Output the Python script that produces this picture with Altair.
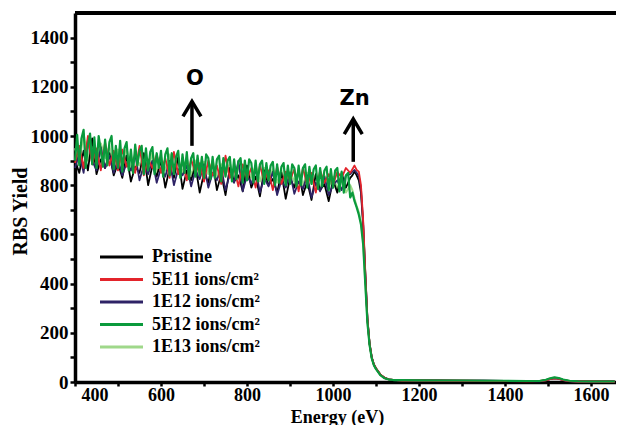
import altair as alt
import pandas as pd

# ---------------- data ----------------
SERIES = ["Pristine", "5E11 ions/cm²", "1E12 ions/cm²", "5E12 ions/cm²", "1E13 ions/cm²"]
COLORS = ["#000000", "#e3242b", "#2e2366", "#0a9a3c", "#9fd88a"]

E_STEP10 = list(range(400, 1041, 10))   # plateau sampling (65 pts)
E_STEP5 = list(range(400, 1041, 5))     # plateau sampling (129 pts)
E_EDGE = [1045, 1050, 1055, 1060, 1065, 1070, 1075, 1080, 1085, 1090, 1095, 1100, 1110, 1120, 1130, 1140]
E_TAIL = [1160, 1200, 1250, 1300, 1350, 1400, 1450, 1480, 1495, 1505, 1515, 1525, 1535, 1550, 1570, 1600, 1655]

pristine_plateau = [
    900, 850, 940, 860, 990, 845, 905, 870, 930, 840,
    890, 830, 920, 815, 875, 850, 930, 800, 880, 835,
    900, 790, 870, 830, 915, 785, 860, 820, 880, 770,
    850, 810, 895, 780, 845, 760, 870, 815, 840, 775,
    880, 790, 835, 755, 860, 800, 825, 770, 850, 745,
    830, 790, 860, 760, 815, 740, 845, 780, 805, 735,
    820, 770, 850, 790, 830]
pristine_edge = [840, 855, 840, 820, 770, 640, 440, 255, 155, 100, 70, 55, 30, 17, 11, 9]
pristine_tail = [7, 6, 6, 5, 5, 4, 4, 4, 8, 13, 16, 14, 9, 4, 2, 2, 2]

e11_plateau = [
    890, 960, 870, 1000, 885, 950, 860, 975, 880, 940,
    860, 945, 875, 920, 850, 960, 840, 905, 870, 925,
    850, 910, 830, 935, 845, 895, 820, 905, 850, 890,
    815, 900, 840, 880, 805, 920, 830, 870, 795, 885,
    825, 870, 790, 880, 815, 860, 780, 875, 805, 855,
    820, 865, 775, 870, 800, 850, 770, 860, 810, 845,
    800, 855, 830, 870, 850]
e11_edge = [865, 880, 862, 855, 800, 660, 450, 260, 158, 102, 72, 56, 31, 17, 11, 9]
e11_tail = [6, 6, 5, 5, 4, 4, 3, 4, 7, 12, 15, 13, 8, 4, 2, 2, 1]

e12_plateau = [
    870, 930, 850, 985, 900, 860, 955, 870, 920, 850,
    905, 840, 890, 860, 925, 820, 880, 845, 900, 810,
    870, 835, 900, 800, 865, 840, 880, 795, 860, 825,
    885, 790, 850, 820, 870, 780, 845, 810, 900, 775,
    840, 805, 865, 770, 830, 795, 855, 760, 820, 790,
    850, 765, 815, 785, 840, 750, 810, 775, 835, 760,
    800, 820, 780, 840, 845]
e12_edge = [855, 862, 850, 838, 785, 650, 445, 258, 156, 101, 71, 55, 30, 16, 11, 8]
e12_tail = [7, 6, 5, 5, 5, 4, 4, 3, 7, 12, 15, 13, 8, 3, 2, 1, 1]

g5e12_plateau = [
    900, 1005, 880, 990, 1025, 870, 960, 1010, 885, 995, 870, 1000, 940, 875, 985, 880, 975, 1000, 865, 960,
    870, 980, 855, 950, 975, 860, 945, 850, 965, 880, 940, 960, 845, 950, 860, 935, 955, 845, 930, 870,
    940, 835, 925, 950, 840, 930, 845, 915, 940, 830, 925, 850, 935, 825, 910, 930, 835, 920, 840, 915,
    830, 925, 910, 825, 915, 830, 905, 920, 815, 910, 835, 900, 915, 815, 905, 825, 895, 910, 810, 900,
    820, 905, 890, 810, 900, 815, 885, 900, 805, 890, 820, 880, 895, 800, 885, 810, 875, 890, 800, 880,
    805, 885, 870, 795, 880, 800, 870, 885, 790, 875, 805, 865, 880, 785, 870, 795, 860, 875, 780, 865,
    790, 860, 870, 775, 855, 770, 840, 850, 750]
g5e12_edge = [770, 735, 710, 680, 640, 560, 400, 240, 150, 96, 68, 52, 28, 15, 10, 8]
g5e12_tail = [8, 7, 6, 6, 5, 5, 4, 4, 9, 15, 19, 16, 10, 5, 3, 2, 2]

e13_plateau = [
    950, 890, 1010, 900, 985, 880, 970, 910, 960, 875,
    945, 870, 950, 860, 930, 880, 925, 855, 935, 850,
    915, 860, 925, 845, 905, 850, 910, 840, 900, 835,
    895, 845, 900, 830, 885, 840, 890, 825, 880, 820,
    875, 830, 880, 815, 870, 820, 865, 810, 860, 805,
    855, 815, 860, 800, 850, 805, 845, 790, 840, 795,
    835, 785, 830, 770, 800]
e13_edge = [780, 745, 715, 690, 650, 575, 410, 245, 152, 98, 69, 53, 29, 16, 10, 8]
e13_tail = [7, 6, 6, 5, 5, 4, 4, 4, 8, 14, 17, 15, 9, 4, 2, 2, 2]

# annotations
ANN_TEXT = ["O", "Zn"]
ANN_E = [672, 1047]
ANN_TIP = [1141, 1069]
ANN_BASE = [960, 895]
ANN_TEXT_E = [679, 1050]
ANN_TEXT_Y = [1232, 1150]

# ---------------- build tables ----------------
plateau = {
    SERIES[0]: (E_STEP10, pristine_plateau, pristine_edge, pristine_tail),
    SERIES[1]: (E_STEP10, e11_plateau, e11_edge, e11_tail),
    SERIES[2]: (E_STEP10, e12_plateau, e12_edge, e12_tail),
    SERIES[3]: (E_STEP5, g5e12_plateau, g5e12_edge, g5e12_tail),
    SERIES[4]: (E_STEP10, e13_plateau, e13_edge, e13_tail),
}
rows = []
for name, (egrid, pv, ev, tv) in plateau.items():
    assert len(egrid) == len(pv) and len(E_EDGE) == len(ev) and len(E_TAIL) == len(tv), name
    for e, y in zip(egrid + E_EDGE + E_TAIL, pv + ev + tv):
        rows.append({"series": name, "E": e, "Y": y})
df = pd.DataFrame(rows)

ann = pd.DataFrame({"label": ANN_TEXT, "E": ANN_E, "Y": ANN_TIP, "Y2": ANN_BASE,
                    "TE": ANN_TEXT_E, "TY": ANN_TEXT_Y})
leg = pd.DataFrame({"name": SERIES, "idx": list(range(len(SERIES)))})

# ---------------- encodings ----------------
X_AXIS = alt.Axis(values=list(range(400, 1601, 100)),
                  labelExpr="datum.value % 200 == 0 ? datum.label : ''",
                  title="Energy (eV)", titleX=262, titleY=40, titleBaseline="alphabetic",
                  titleFontSize=18, labelFontSize=18, labelPadding=0, labelFlush=True,
                  labelFlushOffset=-6, tickSize=4, format="d")
Y_AXIS = alt.Axis(values=list(range(0, 1401, 100)),
                  labelExpr="datum.value % 200 == 0 ? datum.label : ''",
                  title="RBS Yield", titleX=-55, titleY=198, titleBaseline="middle",
                  titleAlign="center", titleAngle=270, labelFlush=False,
                  titleFontSize=20, labelFontSize=19, labelPadding=2, format="d")
XS = alt.Scale(domain=[400, 1658], nice=False, zero=False)
YS = alt.Scale(domain=[0, 1500], nice=False)

def xenc(field="E"):
    return alt.X(f"{field}:Q", scale=XS, axis=X_AXIS)

def yenc(field="Y"):
    return alt.Y(f"{field}:Q", scale=YS, axis=Y_AXIS)

frame_top = alt.Chart(pd.DataFrame({"Y": [1500]})).mark_rule(color="black", strokeWidth=4).encode(
    y=yenc())

draw_order = [4, 0, 2, 1, 3]
widths = {0: 1.8, 1: 1.8, 2: 1.8, 3: 2.2, 4: 2.0}
line_layers = []
for i in draw_order:
    s = SERIES[i]
    line_layers.append(
        alt.Chart(df).transform_filter(alt.datum.series == s).mark_line(
            color=COLORS[i], strokeWidth=widths[i], strokeJoin="round"
        ).encode(x=xenc(), y=yenc())
    )

shaft = alt.Chart(ann).mark_rule(color="black", strokeWidth=3.5).encode(
    x=xenc(), y=yenc(), y2="Y2:Q")
head = alt.Chart(ann).mark_point(shape="M-0.6,1L0,0L0.6,1", size=900, filled=False,
                                 strokeWidth=3.5, color="black", opacity=1,
                                 strokeJoin="miter").encode(x=xenc(), y=yenc())
labels = alt.Chart(ann).mark_text(font="DejaVu Sans", fontWeight="bold", fontSize=21,
                                  color="black", baseline="middle", align="center").encode(
    x=xenc("TE"), y=yenc("TY"), text="label:N")

leg_color = alt.Color("name:N", scale=alt.Scale(domain=SERIES, range=COLORS), legend=None)
leg_lines = alt.Chart(leg).transform_calculate(ly="244 + 22.5*datum.idx").mark_rule(
    strokeWidth=3).encode(
    x=alt.value(25), x2=alt.value(68),
    y=alt.Y("ly:Q", scale=None, axis=None), color=leg_color)
leg_text = alt.Chart(leg).transform_calculate(ly="244 + 22.5*datum.idx").mark_text(
    align="left", baseline="middle", font="Liberation Serif", fontWeight="bold",
    fontSize=18, color="black").encode(
    x=alt.value(77), y=alt.Y("ly:Q", scale=None, axis=None), text="name:N")

chart = alt.layer(frame_top, *line_layers, shaft, head, labels, leg_lines, leg_text).properties(
    width=541, height=369,
    autosize=alt.AutoSizeParams(type="none"),
    padding={"left": 67, "top": 5, "right": 0, "bottom": 43},
    background="white",
).configure_view(stroke="transparent").configure_axis(
    grid=False, domainColor="black", domainWidth=3.5, tickColor="black", tickWidth=2.5,
    tickSize=5, labelFont="Liberation Serif", labelFontWeight="bold", labelColor="black",
    titleFont="Liberation Serif", titleFontWeight="bold", titleColor="black",
)

chart.save("out.html", embed_options={"renderer": "svg", "actions": False})
